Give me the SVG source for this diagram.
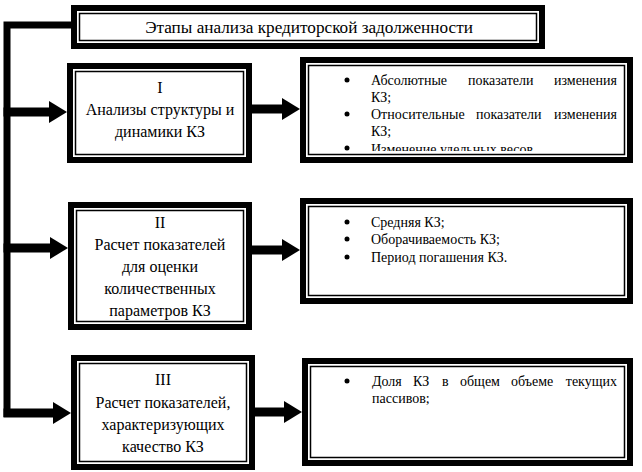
<svg xmlns="http://www.w3.org/2000/svg" width="642" height="472" viewBox="0 0 642 472">
<defs>
<style>
.outer{fill:#fff;stroke:#000;stroke-width:6}
.inner{fill:none;stroke:#000;stroke-width:1.5}
.t{font-family:"Liberation Serif","Times New Roman",serif;font-size:16px;fill:#000;text-anchor:middle}
.h{font-size:17.2px}
.b{font-family:"Liberation Serif","Times New Roman",serif;font-size:14px;fill:#000}
.e{text-anchor:end}
.conn{fill:none;stroke:#000}
</style>
<marker id="ah" markerUnits="userSpaceOnUse" markerWidth="18" markerHeight="22" refX="0" refY="11" orient="auto" overflow="visible">
<path d="M0,0 L18,11 L0,22 Z" fill="#000"/>
</marker>
<clipPath id="c1"><rect x="309" y="66" width="315" height="85"/></clipPath>
</defs>
<rect width="642" height="472" fill="#fff"/>

<g id="connectors">
<path class="conn" d="M72,25 H7 V417" stroke-width="7" stroke-linejoin="miter"/>
<line class="conn" x1="3.5" y1="112" x2="49" y2="112" stroke-width="9" marker-end="url(#ah)"/>
<line class="conn" x1="3.5" y1="248" x2="50" y2="248" stroke-width="9" marker-end="url(#ah)"/>
<line class="conn" x1="3.5" y1="413" x2="53" y2="413" stroke-width="9" marker-end="url(#ah)"/>
<line class="conn" x1="252" y1="109" x2="282" y2="109" stroke-width="9" marker-end="url(#ah)"/>
<line class="conn" x1="252" y1="250" x2="282" y2="250" stroke-width="9" marker-end="url(#ah)"/>
<line class="conn" x1="255" y1="412" x2="284" y2="412" stroke-width="9" marker-end="url(#ah)"/>
</g>

<g id="title">
<rect class="outer" x="74" y="8" width="468" height="38"/>
<rect class="inner" x="79.5" y="13.5" width="457" height="27"/>
<text class="t h" x="309" y="33">Этапы анализа кредиторской задолженности</text>
</g>

<g id="stage1">
<rect class="outer" x="70" y="66" width="179" height="94"/>
<rect class="inner" x="75.5" y="71.5" width="168" height="83"/>
<text class="t" x="160" y="93">I</text>
<text class="t" x="160" y="115">Анализы структуры и</text>
<text class="t" x="160" y="137">динамики КЗ</text>
</g>

<g id="list1">
<rect class="outer" x="303" y="60" width="327" height="100"/>
<rect class="inner" x="308.5" y="65.5" width="316" height="89"/>
<g clip-path="url(#c1)">
<circle cx="347" cy="80" r="2.5"/>
<text class="b" x="371" y="85">Абсолютные</text>
<text class="b" x="468" y="85">показатели</text>
<text class="b e" x="617" y="85">изменения</text>
<text class="b" x="371" y="102">КЗ;</text>
<circle cx="347" cy="114" r="2.5"/>
<text class="b" x="371" y="119">Относительные</text>
<text class="b" x="476" y="119">показатели</text>
<text class="b e" x="617" y="119">изменения</text>
<text class="b" x="371" y="136">КЗ;</text>
<circle cx="347" cy="148" r="2.5"/>
<text class="b" x="371" y="154">Изменение удельных весов</text>
</g>
</g>

<g id="stage2">
<rect class="outer" x="71" y="205" width="178" height="122"/>
<rect class="inner" x="76.5" y="210.5" width="167" height="111"/>
<text class="t" x="160" y="228">II</text>
<text class="t" x="160" y="250">Расчет показателей</text>
<text class="t" x="160" y="272">для оценки</text>
<text class="t" x="160" y="294">количественных</text>
<text class="t" x="160" y="316">параметров КЗ</text>
</g>

<g id="list2">
<rect class="outer" x="303" y="201" width="327" height="100"/>
<rect class="inner" x="308.5" y="206.5" width="316" height="89"/>
<circle cx="347" cy="222" r="2.5"/>
<text class="b" x="371" y="227">Средняя КЗ;</text>
<circle cx="347" cy="239" r="2.5"/>
<text class="b" x="371" y="244">Оборачиваемость КЗ;</text>
<circle cx="347" cy="257" r="2.5"/>
<text class="b" x="371" y="262">Период погашения КЗ.</text>
</g>

<g id="stage3">
<rect class="outer" x="74" y="358" width="178" height="109"/>
<rect class="inner" x="79.5" y="363.5" width="167" height="98"/>
<text class="t" x="163" y="385">III</text>
<text class="t" x="163" y="408">Расчет показателей,</text>
<text class="t" x="163" y="430">характеризующих</text>
<text class="t" x="163" y="452">качество КЗ</text>
</g>

<g id="list3">
<rect class="outer" x="305" y="361" width="325" height="102"/>
<rect class="inner" x="310.5" y="366.5" width="314" height="91"/>
<circle cx="347" cy="381" r="2.5"/>
<text class="b" x="372" y="386">Доля</text>
<text class="b" x="413" y="386">КЗ</text>
<text class="b" x="442" y="386">в</text>
<text class="b" x="460" y="386">общем</text>
<text class="b" x="511" y="386">объеме</text>
<text class="b e" x="617" y="386">текущих</text>
<text class="b" x="372" y="403">пассивов;</text>
</g>
</svg>
